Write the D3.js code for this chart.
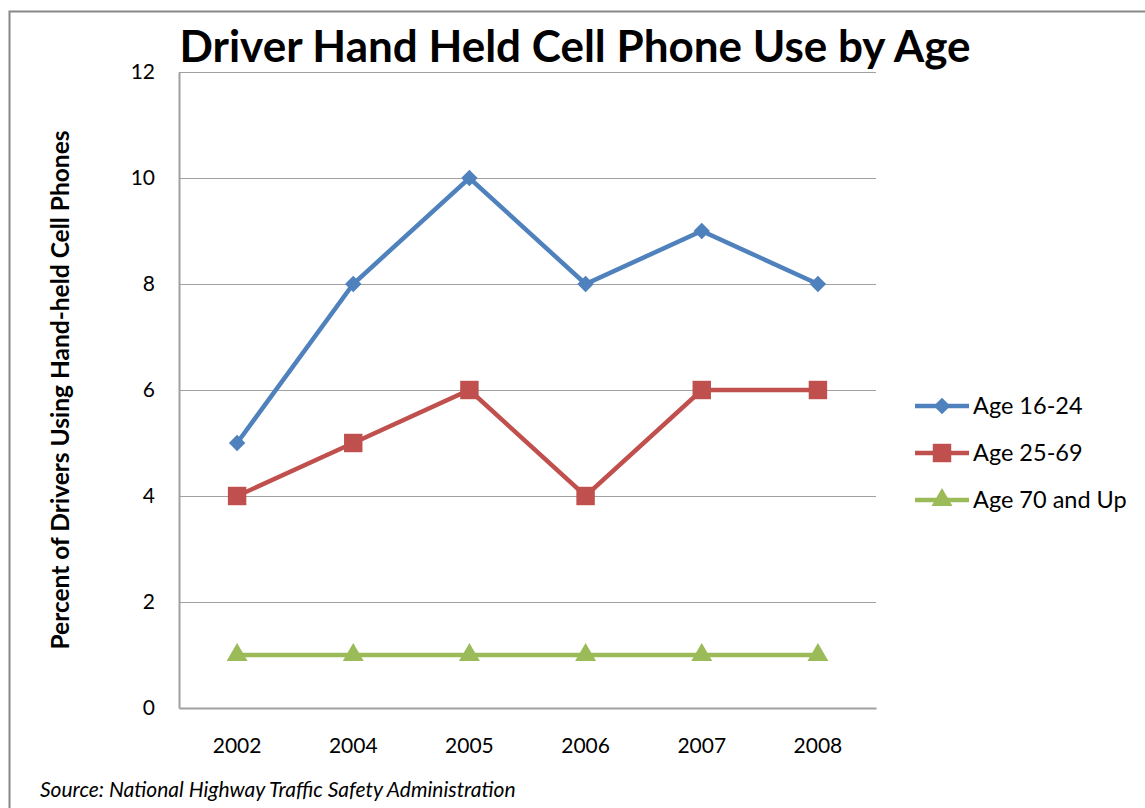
<!DOCTYPE html>
<html>
<head>
<meta charset="utf-8">
<script src="https://cdn.jsdelivr.net/npm/d3@7"></script>
<style>
  body { margin: 0; background: #fff; }
  svg text { font-family: Lato, "Open Sans", sans-serif; fill: #000; }
</style>
</head>
<body>
<div id="chart"></div>
<script>
const years = ["2002", "2004", "2005", "2006", "2007", "2008"];
const age16to24 = [5, 8, 10, 8, 9, 8];
const age25to69 = [4, 5, 6, 4, 6, 6];
const age70up = [1, 1, 1, 1, 1, 1];
const seriesNames = ["Age 16-24", "Age 25-69", "Age 70 and Up"];
const yTicks = [0, 2, 4, 6, 8, 10, 12];

const width = 1145, height = 808;
const plot = { left: 179, right: 876, top: 72, bottom: 708 };

// diamond is a square turned 45 degrees, like the spreadsheet marker
const series = [
    { name: seriesNames[0], values: age16to24, color: "#4F81BD", shape: d3.symbolSquare, size: 135, rot: 45 },
    { name: seriesNames[1], values: age25to69, color: "#C0504D", shape: d3.symbolSquare, size: 340, rot: 0 },
    { name: seriesNames[2], values: age70up, color: "#9BBB59", shape: d3.symbolTriangle, size: 190, rot: 0 }
];

const svg = d3.select("#chart").append("svg")
    .attr("width", width)
    .attr("height", height);

// outer chart border (runs off the right and bottom edges)
svg.append("rect")
    .attr("x", 9.5).attr("y", 11.5)
    .attr("width", 1200).attr("height", 900)
    .attr("fill", "#fff")
    .attr("stroke", "#888")
    .attr("stroke-width", 2);

const x = d3.scaleBand().domain(years).range([plot.left, plot.right]);
const y = d3.scaleLinear().domain([0, 12]).range([plot.bottom, plot.top]);

// gridlines
svg.append("g")
    .selectAll("line")
    .data(yTicks.filter(t => t > 0))
    .enter().append("line")
    .attr("x1", plot.left).attr("x2", plot.right)
    .attr("y1", d => y(d) + 0.5).attr("y2", d => y(d) + 0.5)
    .attr("stroke", "#a0a0a0")
    .attr("stroke-width", 1.2);

// y axis
const yAxis = svg.append("g")
    .attr("transform", `translate(${plot.left},0)`)
    .call(d3.axisLeft(y).tickValues(yTicks).tickSize(0).tickPadding(24));
yAxis.select(".domain").attr("stroke", "#a0a0a0").attr("stroke-width", 2);
yAxis.selectAll("text").style("font-size", "21px").attr("fill", "#000");

// x axis
const xAxis = svg.append("g")
    .attr("transform", `translate(0,${plot.bottom})`)
    .call(d3.axisBottom(x).tickSize(0).tickPadding(30));
xAxis.select(".domain").attr("stroke", "#a0a0a0").attr("stroke-width", 2);
xAxis.selectAll("text").style("font-size", "21px").attr("fill", "#000");

// lines and markers
const line = d3.line()
    .x((d, i) => x(years[i]) + x.bandwidth() / 2)
    .y(d => y(d));

series.forEach(s => {
    svg.append("path")
        .datum(s.values)
        .attr("d", line)
        .attr("fill", "none")
        .attr("stroke", s.color)
        .attr("stroke-width", 4.5);

    svg.append("g")
        .selectAll("path")
        .data(s.values)
        .enter().append("path")
        .attr("transform", (d, i) => `translate(${x(years[i]) + x.bandwidth() / 2},${y(d)}) rotate(${s.rot})`)
        .attr("d", d3.symbol().type(s.shape).size(s.size))
        .attr("fill", s.color);
});

// title
svg.append("text")
    .attr("x", 575).attr("y", 62)
    .attr("text-anchor", "middle")
    .style("font-size", "44px")
    .style("font-weight", "bold")
    .text("Driver Hand Held Cell Phone Use by Age");

// y axis title
svg.append("text")
    .attr("transform", "translate(69,390) rotate(-90)")
    .attr("text-anchor", "middle")
    .style("font-size", "24.5px")
    .style("font-weight", "bold")
    .text("Percent of Drivers Using Hand-held Cell Phones");

// legend
const legend = svg.append("g")
    .selectAll("g")
    .data(series)
    .enter().append("g")
    .attr("transform", (d, i) => `translate(915,${406 + i * 47})`);

legend.append("line")
    .attr("x1", 0).attr("x2", 54)
    .attr("stroke", d => d.color)
    .attr("stroke-width", 4.5);

legend.append("path")
    .attr("transform", d => `translate(27,0) rotate(${d.rot})`)
    .attr("d", d => d3.symbol().type(d.shape).size(d.size)())
    .attr("fill", d => d.color);

legend.append("text")
    .attr("x", 58).attr("dy", "0.35em")
    .style("font-size", "23.5px")
    .text(d => d.name);

// source note
svg.append("text")
    .attr("x", 40).attr("y", 797)
    .style("font-size", "21px")
    .style("font-style", "italic")
    .text("Source: National Highway Traffic Safety Administration");
</script>
</body>
</html>
